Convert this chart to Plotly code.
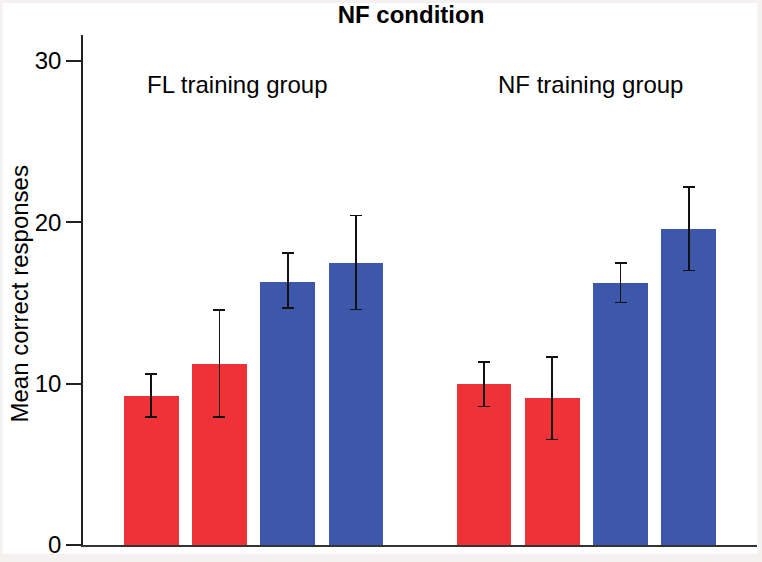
import plotly.graph_objects as go

# ---- data ----
groups = ["FL training group", "NF training group"]
conditions = ["c1", "c2", "c3", "c4"]
colors = ["#EE3238", "#EE3238", "#3D58AB", "#3D58AB"]
fl_means = [9.26, 11.22, 16.32, 17.5]
fl_err_plus = [1.34, 3.32, 1.78, 2.92]
fl_err_minus = [1.31, 3.27, 1.65, 2.91]
nf_means = [9.96, 9.09, 16.24, 19.55]
nf_err_plus = [1.40, 2.54, 1.24, 2.62]
nf_err_minus = [1.37, 2.56, 1.22, 2.55]
y_ticks = [0, 10, 20, 30]
title_text = "NF condition"
y_title = "Mean correct responses"

# ---- layout geometry ----
W, H = 762, 562
ml, mr, mt, mb = 83.3, 5, 35, 16.7
group_start = [1.0, 5.88]
x_range = [0, 9.88]
y_range = [0, 31.6]
font_family = "Arial, Liberation Sans, sans-serif"

fig = go.Figure()
all_means = [fl_means, nf_means]
all_plus = [fl_err_plus, nf_err_plus]
all_minus = [fl_err_minus, nf_err_minus]
for gi, g in enumerate(groups):
    xs = [group_start[gi] + i for i in range(len(conditions))]
    fig.add_trace(go.Bar(
        x=xs, y=all_means[gi], width=0.8,
        marker=dict(color=colors, line=dict(width=0)),
        error_y=dict(type="data", symmetric=False, array=all_plus[gi],
                     arrayminus=all_minus[gi], color="#111111",
                     thickness=1.7, width=6),
        showlegend=False, hoverinfo="y",
    ))

pw = W - ml - mr
ph = H - mt - mb

fig.update_layout(
    width=W, height=H,
    margin=dict(l=ml, r=mr, t=mt, b=mb, pad=0),
    paper_bgcolor="#F6F1F1",
    plot_bgcolor="white",
    font=dict(family=font_family, size=24, color="black"),
    title=dict(text="<b>" + title_text + "</b>", x=411 / W, xref="container",
               xanchor="center", y=1 - 15 / H, yref="container", yanchor="middle",
               font=dict(size=24, family=font_family, color="black")),
    xaxis=dict(range=x_range, showgrid=False, zeroline=False, showticklabels=False,
               ticks="", showline=True, linecolor="#333333", linewidth=2, fixedrange=True),
    yaxis=dict(range=y_range, tickvals=y_ticks, showgrid=False, zeroline=False,
               ticks="outside", ticklen=15, tickwidth=1.5, tickcolor="#222222",
               showline=True, linecolor="#222222", linewidth=1.6,
               tickfont=dict(size=24, color="black")),
    bargap=0,
)

# white panel inside thin tinted border
fig.add_shape(type="rect", xref="paper", yref="paper",
              x0=(3 - ml) / pw, x1=(757.5 - ml) / pw,
              y0=1 - (554 - mt) / ph,
              y1=1 + (mt - 3) / ph,
              fillcolor="white", line=dict(width=0), layer="below")

fig.add_annotation(text=y_title, xref="paper", yref="paper",
                   x=(20 - ml) / pw, y=1 - (294 - mt) / ph, textangle=-90,
                   showarrow=False, xanchor="center", yanchor="middle",
                   font=dict(size=24, color="black"))

label_x = [2.27, 7.44]
for gi, g in enumerate(groups):
    fig.add_annotation(text=g, x=label_x[gi], xref="x", yref="paper",
                       y=1 - (85 - mt) / ph, showarrow=False,
                       xanchor="center", yanchor="middle",
                       font=dict(size=24, color="black"))

fig.write_html("out.html",
               config={"displayModeBar": False},
               post_script="document.body.style.margin='0';document.body.style.overflow='hidden';")
